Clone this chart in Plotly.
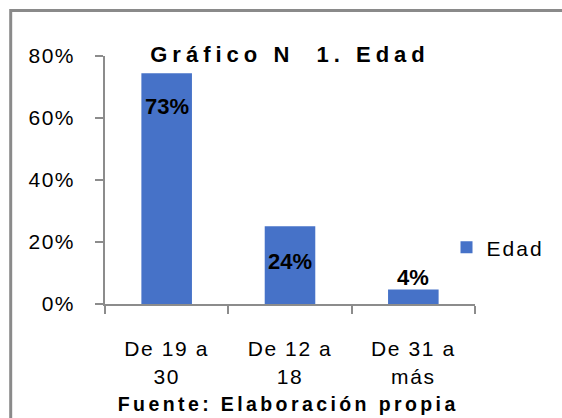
import plotly.graph_objects as go

categories = ["De 19 a<br>30", "De 12 a<br>18", "De 31 a<br>más"]
values = [0.744, 0.251, 0.047]
labels = ["73%", "24%", "4%"]
label_shift = [-33, -35, 12]
series_name = "Edad"
title_text = "Gráfico N\u00a0\u00a01. Edad"
footer_text = "Fuente: Elaboración propia"
y_ticks = [0, 0.2, 0.4, 0.6, 0.8]

FONT = "Liberation Sans, Arial, sans-serif"
AXIS_GREY = "#8c8c8c"

fig = go.Figure(
    go.Bar(
        x=categories,
        y=values,
        name=series_name,
        marker=dict(color="#4672c8", line=dict(width=0)),
        width=0.41,
        showlegend=True,
        hoverinfo="skip",
    )
)

annotations = []
for c, v, t, s in zip(categories, values, labels, label_shift):
    annotations.append(dict(
        x=c, y=v, xref="x", yref="y", text="<b>%s</b>" % t, showarrow=False,
        yshift=s, yanchor="middle", xanchor="center",
        font=dict(family=FONT, size=22, color="#000000"),
    ))
annotations.append(dict(
    x=0.497, y=(304.5 - 404.5) / 248.5, xref="paper", yref="paper",
    text="<b>%s</b>" % footer_text,
    showarrow=False, xanchor="center", yanchor="middle",
    font=dict(family=FONT, size=19.5, color="#000000"),
))

fig.update_layout(
    width=562, height=418,
    margin=dict(l=105, r=87, t=56, b=113.5, pad=0),
    paper_bgcolor="white", plot_bgcolor="white",
    font=dict(family=FONT, size=21, color="#000000"),
    title=dict(
        text="<b>%s</b>" % title_text,
        x=0.5, xref="paper", xanchor="center",
        y=1 - 54 / 418, yref="container", yanchor="middle",
        font=dict(family=FONT, size=22, color="#000000"),
    ),
    xaxis=dict(
        range=[-0.5, 2.5], showline=True, linecolor=AXIS_GREY, linewidth=2,
        ticks="outside", tickson="boundaries", ticklen=8, tickwidth=2, tickcolor=AXIS_GREY,
        showgrid=False, zeroline=False, ticklabelstandoff=25,
        tickfont=dict(family=FONT, size=21, color="#000000"), fixedrange=True,
    ),
    yaxis=dict(
        range=[0, 0.8], tickvals=y_ticks, tickformat=".0%", showline=True,
        linecolor=AXIS_GREY, linewidth=2, ticks="outside", ticklen=8, tickwidth=2,
        tickcolor=AXIS_GREY, showgrid=False, zeroline=False, ticklabelstandoff=16,
        tickfont=dict(family=FONT, size=21, color="#000000"), fixedrange=True,
    ),
    legend=dict(
        x=0.923, y=0.227, xanchor="left", yanchor="middle", xref="paper", yref="paper",
        font=dict(family=FONT, size=21, color="#000000"), bgcolor="rgba(0,0,0,0)",
        borderwidth=0,
    ),
    annotations=annotations,
    shapes=[dict(
        type="rect", xref="paper", yref="paper",
        x0=(10.7 - 105) / 370, x1=2.0, y0=-1.0, y1=(304.5 - 10.5) / 248.5,
        line=dict(color="#8a8a8a", width=3), fillcolor="rgba(0,0,0,0)", layer="above",
    )],
)

post = """
document.body.style.margin = '0';
document.body.style.padding = '0';
var gd = document.getElementById('{plot_id}');
function sp(sel, v){ gd.querySelectorAll(sel).forEach(function(t){ t.style.letterSpacing = v; }); }
sp('.gtitle', '5px');
sp('.xtick text', '1.6px');
sp('.ytick text', '1.4px');
sp('.legendtext', '2px');
gd.querySelectorAll('.annotation-text').forEach(function(t){
  if (t.textContent.indexOf('Fuente') >= 0) { t.style.letterSpacing = '3.4px'; }
});
"""

fig.write_html("out.html", post_script=post, config={"displayModeBar": False, "staticPlot": True})
